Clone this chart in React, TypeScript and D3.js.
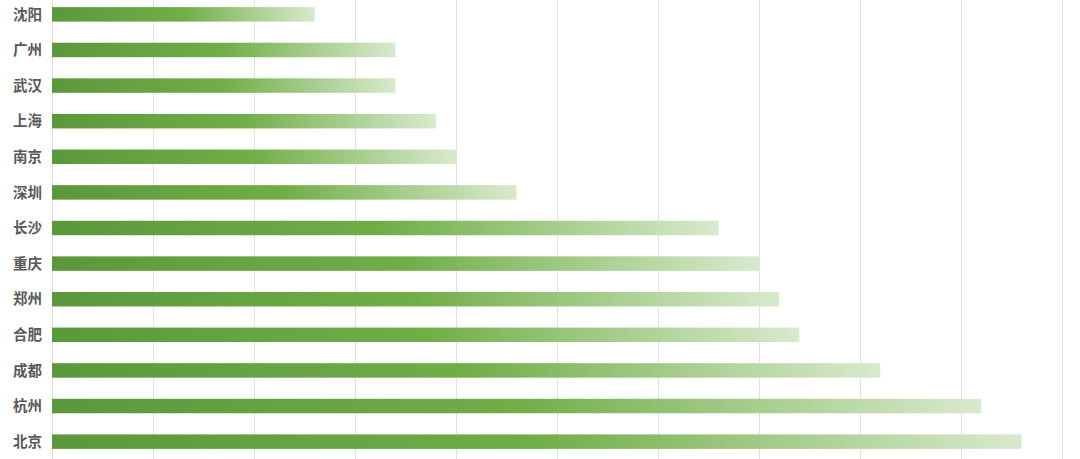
import * as d3 from 'd3';
import { useEffect, useRef } from 'react';

const cities = ['沈阳', '广州', '武汉', '上海', '南京', '深圳', '长沙', '重庆', '郑州', '合肥', '成都', '杭州', '北京'];
const counts = [13, 17, 17, 19, 20, 23, 33, 35, 36, 37, 41, 46, 48];
const xTicks = [0, 5, 10, 15, 20, 25, 30, 35, 40, 45, 50];

export default function App() {
  const ref = useRef<SVGSVGElement | null>(null);

  useEffect(() => {
    if (!ref.current) return;
    const width = 1080;
    const height = 459;
    const svg = d3.select(ref.current).attr('width', width).attr('height', height);
    svg.selectAll('*').remove();

    const data = cities.map((name, i) => ({ name, count: counts[i] }));

    const x = d3.scaleLinear().domain([0, 50]).range([52, 1062]);
    const y = d3
      .scaleBand()
      .domain(cities)
      .range([-14, 470])
      .padding(0.593);

    const defs = svg.append('defs');
    const grad = defs
      .append('linearGradient')
      .attr('id', 'barGrad')
      .attr('x1', '0%')
      .attr('x2', '100%')
      .attr('y1', '0%')
      .attr('y2', '0%');
    grad.append('stop').attr('offset', '0%').attr('stop-color', '#5b983b');
    grad.append('stop').attr('offset', '50%').attr('stop-color', '#71ae48');
    grad.append('stop').attr('offset', '100%').attr('stop-color', '#d8eacd');

    // vertical grid lines
    svg
      .append('g')
      .selectAll('line')
      .data(xTicks)
      .join('line')
      .attr('x1', (d) => Math.round(x(d)) + 0.5)
      .attr('x2', (d) => Math.round(x(d)) + 0.5)
      .attr('y1', 0)
      .attr('y2', height)
      .attr('stroke', '#e1e1e1')
      .attr('stroke-width', 1);

    // bars
    svg
      .append('g')
      .selectAll('rect')
      .data(data)
      .join('rect')
      .attr('x', x(0))
      .attr('y', (d) => y(d.name)!)
      .attr('width', (d) => x(d.count) - x(0))
      .attr('height', y.bandwidth())
      .attr('fill', 'url(#barGrad)');

    // category labels
    svg
      .append('g')
      .selectAll('text')
      .data(data)
      .join('text')
      .attr('x', 42)
      .attr('y', (d) => y(d.name)! + y.bandwidth() / 2)
      .attr('dy', '0.36em')
      .attr('text-anchor', 'end')
      .attr('font-family', '"Noto Sans CJK SC", "Noto Sans", sans-serif')
      .attr('font-size', 14.5)
      .attr('font-weight', 600)
      .attr('fill', '#595959')
      .text((d) => d.name);
  }, []);

  return (
    <div style={{ position: 'absolute', left: 0, top: 0 }}>
      <svg ref={ref} style={{ display: 'block' }} />
    </div>
  );
}
